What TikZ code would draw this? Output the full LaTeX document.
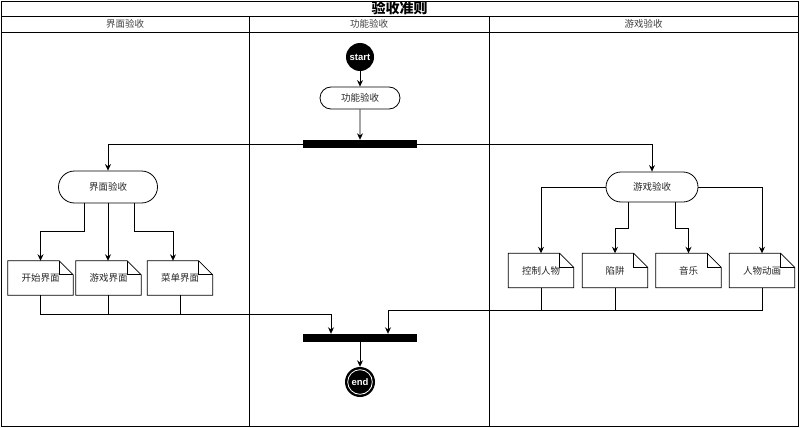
\documentclass[tikz,border=0pt]{standalone}
\usepackage{fontspec}
\setmainfont{Liberation Sans}
\newfontfamily\cjk{Noto Sans CJK SC}
\usetikzlibrary{arrows.meta,shapes.misc,calc}
\tikzset{
  ln/.style={line width=0.9pt, draw=black},
  arr/.style={ln, -{Stealth[length=6.5pt,width=6pt]}},
  act/.style={rounded rectangle, draw, line width=0.8pt, inner sep=0pt, font=\cjk\fontsize{9.5}{10}\selectfont, text=black!85},
  bar/.style={rectangle, fill=black, inner sep=0pt, minimum width=114pt, minimum height=8pt},
  notebody/.style={rectangle, inner sep=0pt, minimum width=65pt, minimum height=34pt, font=\cjk\fontsize{9.5}{10}\selectfont, text=black!85},
  hdr/.style={font=\cjk\fontsize{9.5}{10}\selectfont, text=black!75, inner sep=0pt},
}
\newcommand\notenode[3]{%
  \node[notebody] (#1) at (#2) {#3};
  \draw[line width=0.8pt] (#1.south west) -- (#1.north west) -- ([xshift=-14pt]#1.north east)
    -- ([yshift=-14pt]#1.north east) -- (#1.south east) -- cycle;
  \draw[line width=0.8pt] ([xshift=-14pt]#1.north east) -- ([xshift=-14pt,yshift=-14pt]#1.north east)
    -- ([yshift=-14pt]#1.north east);
}
\begin{document}
\begin{tikzpicture}[x=1pt,y=-1pt]
\useasboundingbox (0,0) rectangle (800,428);
% frame and lanes
\draw[ln] (1,1) rectangle (798,426);
\draw[ln] (1,16) -- (798,16);
\draw[ln] (1,32) -- (798,32);
\draw[ln] (249,16) -- (249,426);
\draw[ln] (489,16) -- (489,426);
\node[font=\cjk\bfseries\fontsize{14}{15}\selectfont, inner sep=0pt] (title) at (399.5,8.5) {验收准则};
\node[hdr] (h1) at (125,24) {界面验收};
\node[hdr] (h2) at (369,24) {功能验收};
\node[hdr] (h3) at (643.5,24) {游戏验收};
% center lane
\node[circle, fill=black, minimum size=28pt, inner sep=0pt, text=white, font=\bfseries\fontsize{9.5}{10}\selectfont] (start) at (360,57) {start};
\node[act, minimum width=80pt, minimum height=22pt] (fn) at (360,98) {功能验收};
\node[bar] (fork) at (360,144) {};
\node[bar] (join) at (360,338) {};
\node[circle, fill=black, minimum size=30pt, inner sep=0pt] (end) at (360,382) {};
\draw[white, line width=0.8pt] (end.center) circle (12.3pt);
\node[text=white, font=\bfseries\fontsize{9.5}{10}\selectfont, inner sep=0pt] (endtxt) at (end.center) {end};
\draw[arr] (start) -- (fn);
\draw[arr] (fn) -- (fork);
\draw[arr] (join) -- (end);
% left lane
\node[act, minimum width=99pt, minimum height=32pt] (jm) at (108,187) {界面验收};
\notenode{b1}{40.5,278}{开始界面}
\notenode{b2}{108.5,278}{游戏界面}
\notenode{b3}{180,278}{菜单界面}
\draw[arr] (fork.west) -| (jm.north);
\draw[arr] ([xshift=-24pt]jm.south) -- ++(0,28) -| (b1.north);
\draw[arr] (jm.south) -- (jm.south |- b2.north);
\draw[arr] ([xshift=26pt]jm.south) -- ++(0,28) -| ([xshift=-7pt]b3.north);
\coordinate (lj) at (331,314);
\draw[arr] (b1.south) |- (lj) -- (lj |- join.north);
\draw[ln] (b2.south) -- (b2.south |- lj);
\draw[ln] (b3.south) -- (b3.south |- lj);
% right lane
\node[act, minimum width=92pt, minimum height=30pt] (gm) at (652,187) {游戏验收};
\notenode{g1}{541,270.5}{控制人物}
\notenode{g2}{615,270.5}{陷阱}
\notenode{g3}{688.5,270.5}{音乐}
\notenode{g4}{762,270.5}{人物动画}
\draw[arr] (fork.east) -| (gm.north);
\draw[arr] (gm.west) -| (g1.north);
\draw[arr] ([xshift=-24pt]gm.south) -- ++(0,26) -| (g2.north);
\draw[arr] ([xshift=23pt]gm.south) -- ++(0,26) -| (g3.north);
\draw[arr] (gm.east) -| (g4.north);
\coordinate (rj) at (388,310);
\draw[arr] (g4.south) |- (rj) -- (rj |- join.north);
\draw[ln] (g1.south) -- (g1.south |- rj);
\draw[ln] (g2.south) -- (g2.south |- rj);
\end{tikzpicture}
\end{document}
